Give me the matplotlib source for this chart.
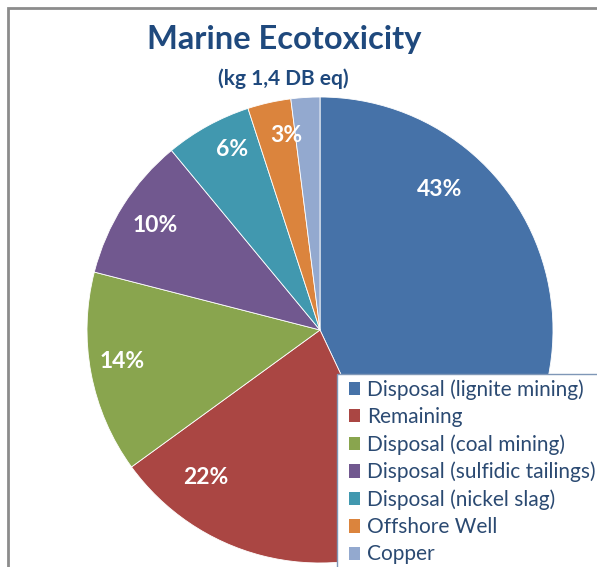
import matplotlib.pyplot as plt
from matplotlib.patches import Patch, Rectangle

#%% data
categories = ['Disposal (lignite mining)', 'Remaining', 'Disposal (coal mining)',
              'Disposal (sulfidic tailings)', 'Disposal (nickel slag)', 'Offshore Well', 'Copper']
shares = [43, 22, 14, 10, 6, 3, 2]
pct_labels = ['43%', '22%', '14%', '10%', '6%', '3%', '']
colors = ['#4672A8', '#AA4643', '#89A54E', '#71588F', '#4198AF', '#DB843D', '#93A9CF']

# label positions in pixels (x, y from top), as Excel placed them
label_pos = [(440, 190), (206, 478), (122, 361), (155, 225), (232, 150), (286, 136), None]

W, H = 597, 567
plt.rcParams['font.family'] = ['Lato', 'DejaVu Sans']

fig = plt.figure(figsize=(W / 100, H / 100), dpi=100)
ax = fig.add_axes([0, 0, 1, 1])
ax.set_xlim(0, W)
ax.set_ylim(0, H)
ax.set_aspect('equal')
ax.axis('off')

wedges, _ = ax.pie(shares, colors=colors, startangle=90, counterclock=False,
                   center=(320, H - 330), radius=233,
                   wedgeprops=dict(edgecolor='white', linewidth=0.6))
ax.set_xlim(0, W)
ax.set_ylim(0, H)

for lab, pos in zip(pct_labels, label_pos):
    if pos is None:
        continue
    ax.text(pos[0], H - pos[1], lab, color='white', fontsize=16.5, fontweight='bold',
            ha='center', va='center')

# titles
ax.text(284, H - 39, 'Marine Ecotoxicity', color='#1F497D', fontsize=23.5,
        fontweight='bold', ha='center', va='center')
ax.text(283, H - 79, '(kg 1,4 DB eq)', color='#1F497D', fontsize=15,
        fontweight='bold', ha='center', va='center')

# legend box (runs off the right and bottom edges like the original)
ax.add_patch(Rectangle((337, -20), 300, H - 374 + 20, facecolor='white',
                       edgecolor='#7F97B7', linewidth=1.0, zorder=3))
handles = [Patch(facecolor=c, edgecolor='none') for c in colors]
leg = ax.legend(handles, categories, loc='upper left',
                bbox_to_anchor=(349, H - 379), bbox_transform=ax.transData,
                fontsize=15, frameon=False,
                handlelength=0.55, handleheight=0.6, handletextpad=0.3,
                labelspacing=0.345, borderpad=0.0, borderaxespad=0)
leg.set_zorder(4)
for t in leg.get_texts():
    t.set_color('#2B4A72')

# chart area border
fig.patches.append(Rectangle((8 / W, -0.1), 1.2, 1.1 - 8 / H, transform=fig.transFigure,
                             fill=False, edgecolor='#8C8C8C', linewidth=2))

fig.savefig('out.png', dpi=100)
